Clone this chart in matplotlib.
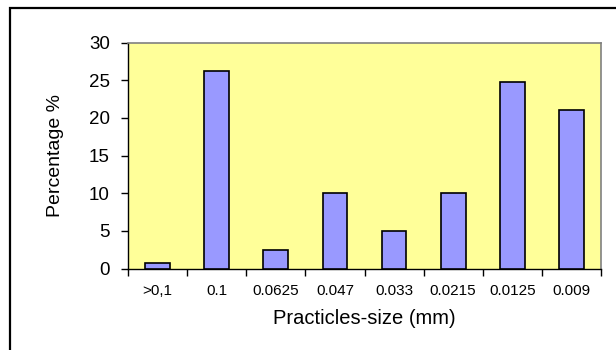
import numpy as np
import matplotlib.pyplot as plt
from matplotlib.patches import Rectangle

# particle size classes and their share
sizes = ['>0,1', '0.1', '0.0625', '0.047', '0.033', '0.0215', '0.0125', '0.009']
percent = [0.7, 26.2, 2.5, 10.0, 5.0, 10.0, 24.8, 21.0]
y_ticks = [0, 5, 10, 15, 20, 25, 30]

plt.rcParams['font.family'] = ['Liberation Sans', 'DejaVu Sans']

fig = plt.figure(figsize=(6.16, 3.5), dpi=100)
fig.patch.set_facecolor('white')

# outer chart frame (runs off the right and bottom edge)
fig.patches.append(Rectangle((10 / 616, -0.05), 1.1, 1 - 8 / 350 + 0.05,
                             transform=fig.transFigure, fill=False,
                             edgecolor='black', linewidth=1.6))

ax = fig.add_axes([128 / 616, 1 - 268.5 / 350, 473 / 616, 226 / 350])
ax.set_facecolor('#FFFF99')

x = np.arange(len(sizes))
ax.bar(x, percent, width=0.42, color='#9999FF', edgecolor='black', linewidth=1.2, zorder=3)

ax.set_xlim(-0.5, len(sizes) - 0.5)
ax.set_ylim(0, 30)
ax.set_yticks(y_ticks)
ax.tick_params(axis='y', labelsize=13.5, length=5, width=1, pad=8)

# category labels centred, tick marks on the boundaries
ax.set_xticks(np.arange(-0.5, len(sizes), 1))
ax.set_xticklabels([])
ax.set_xticks(x, minor=True)
ax.set_xticklabels(sizes, minor=True, fontsize=11)
ax.tick_params(axis='x', which='major', length=5, width=1)
ax.tick_params(axis='x', which='minor', length=0, pad=11)

for side in ['top', 'right']:
    ax.spines[side].set_color('#808080')
    ax.spines[side].set_linewidth(1.2)
for side in ['left', 'bottom']:
    ax.spines[side].set_color('black')
    ax.spines[side].set_linewidth(1)

ax.set_xlabel('Practicles-size (mm)', fontsize=14.5, labelpad=8)
ax.set_ylabel('Percentage %', fontsize=14, labelpad=18)

fig.savefig('out.png', dpi=100)
